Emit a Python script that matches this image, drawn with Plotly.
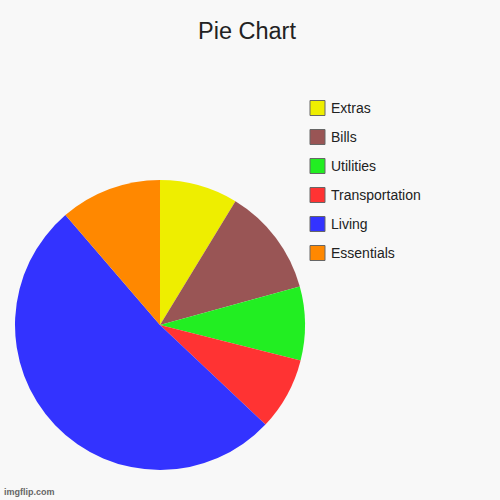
import plotly.graph_objects as go

# listed in legend order (top to bottom); slices go clockwise from 12 o'clock
labels = ["Extras", "Bills", "Utilities", "Transportation", "Living", "Essentials"]
values = [8.7, 12.0, 8.2, 8.1, 51.6, 11.3]
colors = ["#eeee00", "#995555", "#22ee22", "#ff3333", "#3333ff", "#ff8800"]

fig = go.Figure()
fig.add_trace(go.Pie(labels=labels, values=values, sort=False,
                     direction="clockwise", rotation=0,
                     marker=dict(colors=colors, line=dict(width=0)),
                     textinfo="none", hoverinfo="label+value",
                     domain=dict(x=[0.03, 0.61], y=[0.06, 0.64]),
                     showlegend=False))

# legend drawn by hand so the spacing matches
shapes = []
annotations = []
for i, (lab, col) in enumerate(zip(labels, colors)):
    yc = 108 + i * 29
    shapes.append(dict(type="rect", xref="paper", yref="paper",
                       x0=310 / 500, x1=325 / 500,
                       y0=1 - (yc + 7.5) / 500, y1=1 - (yc - 7.5) / 500,
                       fillcolor=col, line=dict(color="#666666", width=1)))
    annotations.append(dict(text=lab, xref="paper", yref="paper",
                            x=329 / 500, y=1 - yc / 500, xanchor="left", yanchor="middle",
                            showarrow=False, font=dict(size=14, color="#222222")))

annotations.append(dict(text="<b>imgflip.com</b>", xref="paper", yref="paper",
                        x=2 / 500, y=1 - 492 / 500, xanchor="left", yanchor="middle",
                        showarrow=False, font=dict(size=9, color="#666666")))

fig.update_layout(
    width=500, height=500,
    margin=dict(l=0, r=0, t=0, b=0),
    paper_bgcolor="#f8f8f8",
    font=dict(family="Liberation Sans, Arial, sans-serif"),
    title=dict(text="Pie Chart", x=0.494, xanchor="center", y=1 - 31 / 500, yanchor="middle",
               font=dict(size=23.5, color="#222222")),
    shapes=shapes,
    annotations=annotations,
)

fig.write_html("out.html", config={"displayModeBar": False},
               post_script="document.body.style.margin='0px';")
